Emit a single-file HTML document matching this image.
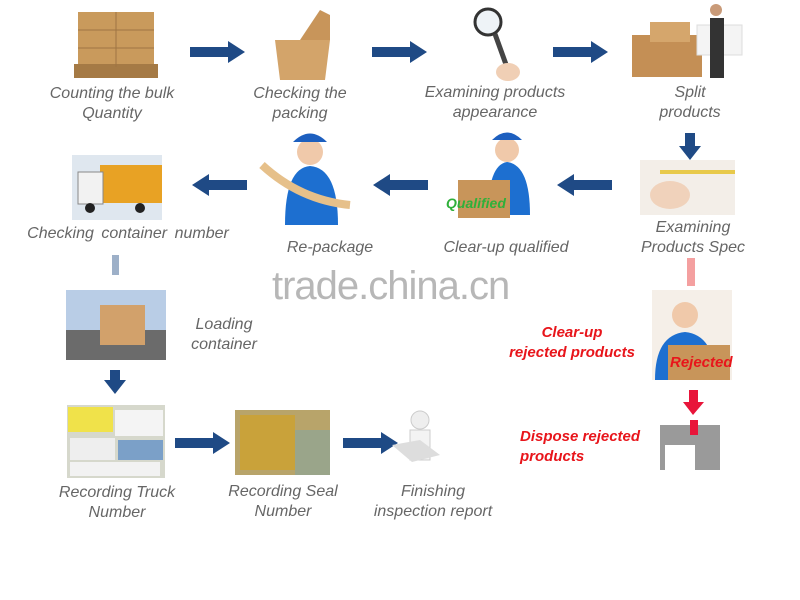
<!DOCTYPE html>
<html><head><meta charset="utf-8"><style>
body{margin:0;width:800px;height:600px;background:#fff;position:relative;overflow:hidden;font-family:"Liberation Sans",sans-serif}
.t{position:absolute;font-style:italic;color:#666;font-size:16px;line-height:20px;text-align:center;white-space:nowrap;transform:translateX(-50%)}
.r{position:absolute;font-style:italic;font-weight:bold;color:#e8151b;font-size:15px;line-height:20px;white-space:nowrap}
.b{position:absolute}
svg{position:absolute;left:0;top:0}
</style></head><body>
<svg width="800" height="600">
<defs>
<g id="ar"><rect x="0" y="-5" width="40" height="10" fill="#1f4a85"/><polygon points="38,-11 55,0 38,11" fill="#1f4a85"/></g>
</defs>
<rect x="78" y="12" width="76" height="55" fill="#c99a5c"/><rect x="74" y="64" width="84" height="14" fill="#a57a45"/>
<line x1="78" y1="30" x2="154" y2="30" stroke="#9e7443"/><line x1="78" y1="48" x2="154" y2="48" stroke="#9e7443"/><line x1="116" y1="12" x2="116" y2="67" stroke="#9e7443"/>
<polygon points="275,40 330,40 325,80 280,80" fill="#d3a46a"/><polygon points="300,40 320,10 330,15 330,40" fill="#c8955a"/>
<circle cx="488" cy="22" r="13" fill="#eef3f7" stroke="#333" stroke-width="3"/><line x1="495" y1="34" x2="508" y2="70" stroke="#444" stroke-width="5"/><ellipse cx="508" cy="72" rx="12" ry="9" fill="#f0cfb5"/>
<rect x="632" y="35" width="70" height="42" fill="#c48f55"/><rect x="650" y="22" width="40" height="20" fill="#d5a66c"/><rect x="697" y="25" width="45" height="30" fill="#f4f4f4" stroke="#ddd"/><rect x="710" y="18" width="14" height="60" fill="#333"/><circle cx="716" cy="10" r="6" fill="#c99a78"/>
<use href="#ar" x="190" y="52"/><use href="#ar" x="372" y="52"/><use href="#ar" x="553" y="52"/>
<g transform="translate(690,133) rotate(90)"><rect x="0" y="-5" width="15" height="10" fill="#1f4a85"/><polygon points="13,-11 27,0 13,11" fill="#1f4a85"/></g>
<rect x="640" y="160" width="95" height="55" fill="#f3eee8"/><ellipse cx="670" cy="195" rx="20" ry="14" fill="#f0d2bb"/><line x1="660" y1="172" x2="735" y2="172" stroke="#e8c94a" stroke-width="4"/>
<g transform="translate(612,185) rotate(180)"><use href="#ar"/></g>
<g transform="translate(428,185) rotate(180)"><use href="#ar"/></g>
<g transform="translate(247,185) rotate(180)"><use href="#ar"/></g>
<circle cx="507" cy="150" r="12" fill="#f0c9aa"/><path d="M492 140 Q507 125 522 140 Z" fill="#1d5fbf"/><path d="M488 215 Q488 165 507 162 Q530 165 530 215Z" fill="#1d6fd0"/><rect x="458" y="180" width="52" height="38" fill="#c8955a"/>
<circle cx="310" cy="152" r="13" fill="#f0c9aa"/><path d="M293 142 Q310 125 327 142 Z" fill="#1d5fbf"/><path d="M285 225 Q285 168 310 166 Q338 168 338 225Z" fill="#1d6fd0"/><path d="M262 165 Q300 200 350 205" stroke="#e6c08a" stroke-width="8" fill="none"/>
<rect x="72" y="155" width="90" height="65" fill="#dfe7ef"/><rect x="100" y="165" width="62" height="38" fill="#e8a224"/><rect x="78" y="172" width="25" height="32" fill="#f2f2f2" stroke="#888"/><circle cx="90" cy="208" r="5" fill="#222"/><circle cx="140" cy="208" r="5" fill="#222"/>
<rect x="112" y="255" width="7" height="20" fill="#9db0c8"/>
<rect x="66" y="290" width="100" height="70" fill="#b9cde6"/><rect x="66" y="330" width="100" height="30" fill="#6b6b6b"/><rect x="100" y="305" width="45" height="40" fill="#d2a16b"/>
<g transform="translate(115,370) rotate(90)"><rect x="0" y="-5" width="12" height="10" fill="#1f4a85"/><polygon points="10,-11 24,0 10,11" fill="#1f4a85"/></g>
<rect x="67" y="405" width="98" height="73" fill="#d6d8cc"/><rect x="68" y="407" width="45" height="25" fill="#f0e24a"/><rect x="115" y="410" width="48" height="26" fill="#f4f4f4"/><rect x="70" y="438" width="45" height="22" fill="#eee"/><rect x="118" y="440" width="45" height="20" fill="#7ba0c8"/><rect x="70" y="462" width="90" height="14" fill="#f2f2f2"/>
<use href="#ar" x="175" y="443"/>
<rect x="235" y="410" width="95" height="65" fill="#b8a46a"/><rect x="240" y="415" width="55" height="55" fill="#c9a23a"/><rect x="295" y="430" width="35" height="45" fill="#9aa58a"/>
<use href="#ar" x="343" y="443"/>
<circle cx="420" cy="420" r="9" fill="#eee" stroke="#ccc"/><rect x="410" y="430" width="20" height="30" fill="#f3f3f3" stroke="#ccc"/><polygon points="392,445 420,440 440,455 412,462" fill="#ddd"/>
<rect x="687" y="258" width="8" height="28" fill="#f4a0a0"/>
<rect x="652" y="290" width="80" height="90" fill="#f5efe8"/><circle cx="685" cy="315" r="13" fill="#f0c9aa"/><path d="M655 380 Q655 335 685 332 Q715 335 715 380Z" fill="#1d6fd0"/><rect x="668" y="345" width="62" height="35" fill="#c8955a"/>
<rect x="689" y="390" width="9" height="14" fill="#e8153a"/><polygon points="683,402 704,402 693,415" fill="#e8153a"/>
<rect x="660" y="425" width="60" height="45" fill="#9a9a9a"/><rect x="665" y="445" width="30" height="25" fill="#fff"/><rect x="690" y="420" width="8" height="15" fill="#e8153a"/>
</svg>
<div class="t" style="left:112px;top:84px">Counting the bulk<br>Quantity</div>
<div class="t" style="left:300px;top:84px">Checking the<br>packing</div>
<div class="t" style="left:495px;top:83px">Examining products<br>appearance</div>
<div class="t" style="left:690px;top:83px">Split<br>products</div>
<div class="t" style="left:693px;top:218px">Examining<br>Products Spec</div>
<div class="b" style="left:446px;top:195px;color:#2fb03a;font-style:italic;font-weight:bold;font-size:14px">Qualified</div>
<div class="t" style="left:506px;top:238px">Clear-up qualified</div>
<div class="t" style="left:330px;top:238px">Re-package</div>
<div class="t" style="left:128px;top:224px;word-spacing:3px">Checking container number</div>
<div class="b" style="left:272px;top:264px;font-size:40px;color:#b7b7b7;letter-spacing:-1px">trade.china.cn</div>
<div class="t" style="left:224px;top:315px">Loading<br>container</div>
<div class="t" style="left:117px;top:483px">Recording Truck<br>Number</div>
<div class="t" style="left:283px;top:482px">Recording Seal<br>Number</div>
<div class="t" style="left:433px;top:482px">Finishing<br>inspection report</div>
<div class="r" style="left:572px;top:323px;text-align:center;transform:translateX(-50%)">Clear-up<br>rejected products</div>
<div class="r" style="left:670px;top:353px">Rejected</div>
<div class="r" style="left:520px;top:427px">Dispose rejected<br>products</div>
</body></html>
